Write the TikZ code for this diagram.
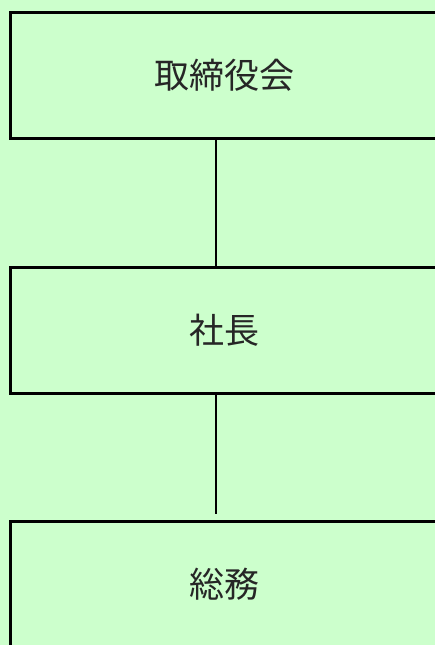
\documentclass[tikz,border=0pt]{standalone}
\usepackage{fontspec}
\newfontfamily\jpfont{Noto Sans CJK JP}
\definecolor{bggreen}{RGB}{204,255,204}
\begin{document}
\begin{tikzpicture}[x=1pt,y=-1pt,
  post/.style={draw=black,line width=3pt,fill=bggreen,minimum width=427pt,minimum height=126pt,
    text=black!85,font=\jpfont\fontsize{35}{40}\selectfont},
  link/.style={line width=2pt}]
\fill[bggreen] (0,0) rectangle (435,645);
\useasboundingbox (0,0) rectangle (435,645);
\clip (0,0) rectangle (435,645);
\node[post] (board) at (224,75.5) {取締役会};
\node[post] (president) at (224,330) {社長};
\node[post] (general) at (224,584.5) {総務};
\draw[link] ([xshift=-8pt]board.south) -- ([xshift=-8pt]president.north);
\draw[link,shorten >=6pt] ([xshift=-8pt]president.south) -- ([xshift=-8pt]general.north);
\end{tikzpicture}
\end{document}
